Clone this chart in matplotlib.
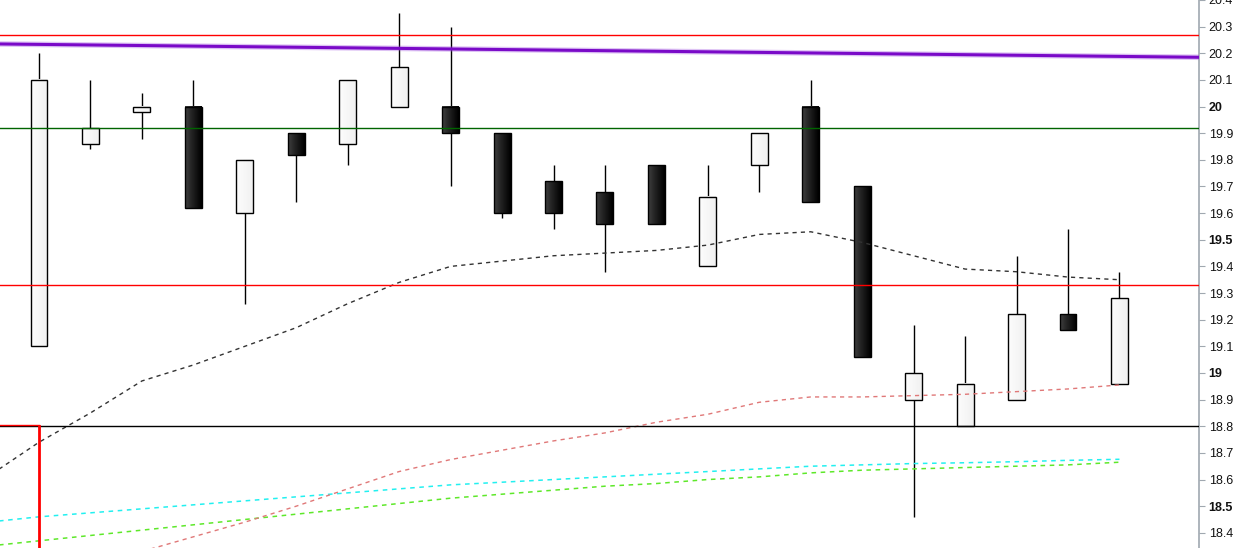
import numpy as np
import matplotlib
matplotlib.use("Agg")
import matplotlib.pyplot as plt
from matplotlib.patches import Rectangle

plt.rcParams['font.family'] = ['Liberation Sans', 'DejaVu Sans']

# candles (index 0..21)
opens  = [19.10, 19.86, 19.98, 20.00, 19.60, 19.90, 19.86, 20.00, 20.00, 19.90, 19.72,
          19.68, 19.78, 19.40, 19.78, 20.00, 19.70, 18.90, 18.80, 18.90, 19.22, 18.96]
highs  = [20.20, 20.10, 20.05, 20.10, 19.80, 19.90, 20.10, 20.35, 20.30, 19.90, 19.78,
          19.78, 19.78, 19.78, 19.90, 20.10, 19.70, 19.18, 19.14, 19.44, 19.54, 19.38]
lows   = [19.10, 19.84, 19.88, 19.62, 19.26, 19.64, 19.78, 20.00, 19.70, 19.58, 19.54,
          19.38, 19.56, 19.40, 19.68, 19.64, 19.06, 18.46, 18.80, 18.90, 19.16, 18.96]
closes = [20.10, 19.92, 20.00, 19.62, 19.80, 19.82, 20.10, 20.15, 19.90, 19.60, 19.60,
          19.56, 19.56, 19.66, 19.90, 19.64, 19.06, 19.00, 18.96, 19.22, 19.16, 19.28]

# moving averages, starting one bar before the first visible candle
ma_black = [18.61, 18.74, 18.85, 18.97, 19.03, 19.10, 19.17, 19.26, 19.34, 19.40, 19.42, 19.44,
            19.45, 19.46, 19.48, 19.52, 19.53, 19.49, 19.44, 19.39, 19.38, 19.36, 19.35]
ma_cyan  = [18.44, 18.46, 18.475, 18.49, 18.505, 18.52, 18.535, 18.55, 18.565, 18.58, 18.59, 18.60,
            18.61, 18.62, 18.63, 18.64, 18.65, 18.655, 18.66, 18.663, 18.667, 18.672, 18.676]
ma_green = [18.35, 18.37, 18.39, 18.41, 18.43, 18.45, 18.47, 18.49, 18.51, 18.53, 18.545, 18.56,
            18.575, 18.585, 18.60, 18.61, 18.625, 18.635, 18.64, 18.645, 18.65, 18.655, 18.665]
# pink one starts at bar 2
ma_pink  = [18.33, 18.385, 18.44, 18.50, 18.565, 18.63, 18.675, 18.71, 18.745, 18.775, 18.815,
            18.845, 18.89, 18.91, 18.91, 18.915, 18.92, 18.93, 18.94, 18.955]

hlines = [(20.27, '#ff0000'), (19.92, '#006400'), (19.33, '#ff0000'), (18.80, '#000000')]
trend_start, trend_end = 20.235, 20.185
box_level = 18.80

yticks = [18.4, 18.5, 18.6, 18.7, 18.8, 18.9, 19.0, 19.1, 19.2, 19.3, 19.4, 19.5,
          19.6, 19.7, 19.8, 19.9, 20.0, 20.1, 20.2, 20.3, 20.4]

fig = plt.figure(figsize=(12.42, 5.48), dpi=100)
ax = fig.add_axes([0, 0, 1199 / 1242, 1])
xmin, xmax = -0.758, 22.546
ymin, ymax = 18.343, 20.400

w = 0.33
grad = np.linspace(0, 1, 32).reshape(1, -1)
for i, (o, h, l, c) in enumerate(zip(opens, highs, lows, closes)):
    lo, hi = min(o, c), max(o, c)
    ax.plot([i, i], [l, h], color='black', lw=1.0, zorder=2, solid_capstyle='butt')
    # white bodies fade to light grey, black bodies from dark grey to black
    shade = 0.02 + 0.1 * grad if c >= o else 0.8 + 0.2 * grad
    ax.imshow(shade, extent=[i - w / 2, i + w / 2, lo, hi], aspect='auto',
              cmap='Greys', vmin=0, vmax=1, zorder=3)
    ax.add_patch(Rectangle((i - w / 2, lo), w, hi - lo, fill=False, ec='black', lw=1.0, zorder=4))

x_ma = np.arange(-1, 22)
ax.plot(x_ma, ma_cyan, color='#22f0f0', lw=1.1, ls=(0, (3, 3)), zorder=5)
ax.plot(x_ma, ma_green, color='#5ee82a', lw=1.1, ls=(0, (3, 3)), zorder=5)
ax.plot(np.arange(2, 22), ma_pink, color='#e07878', lw=1.0, ls=(0, (3, 3)), zorder=5)
ax.plot(x_ma, ma_black, color='#333333', lw=1.0, ls=(0, (3, 3)), zorder=5)

for val, col in hlines:
    ax.axhline(val, color=col, lw=1.0, zorder=6)

ax.plot([xmin, xmax], [trend_start, trend_end], color='#a050e0', alpha=0.35, lw=4.0, zorder=6,
        solid_capstyle='butt')
ax.plot([xmin, xmax], [trend_start, trend_end], color='#7a0ac8', lw=2.2, zorder=7,
        solid_capstyle='butt')

ax.plot([xmin, 0], [box_level + 0.003, box_level + 0.003], color='#ff0000', lw=1.0, zorder=7)
ax.plot([0, 0], [box_level, ymin - 0.1], color='#ff0000', lw=2.0, zorder=7)

ax.set_xlim(xmin, xmax)
ax.set_ylim(ymin, ymax)
ax.set_xticks([])
for s in ['left', 'top', 'bottom']:
    ax.spines[s].set_visible(False)
ax.spines['right'].set_color('#a0a8b0')
ax.spines['right'].set_linewidth(1.2)
ax.yaxis.tick_right()
ax.set_yticks(yticks)
labels = [('%.1f' % t).rstrip('0').rstrip('.') for t in yticks]
ax.set_yticklabels(labels)
ax.tick_params(axis='y', direction='out', length=4, color='#a0a8b0', pad=3,
               labelsize=9, labelcolor='#111111')
for lab, t in zip(ax.get_yticklabels(), yticks):
    if abs(t * 2 - round(t * 2)) < 1e-6:
        lab.set_fontweight('bold')

fig.savefig('out.png', dpi=100)
